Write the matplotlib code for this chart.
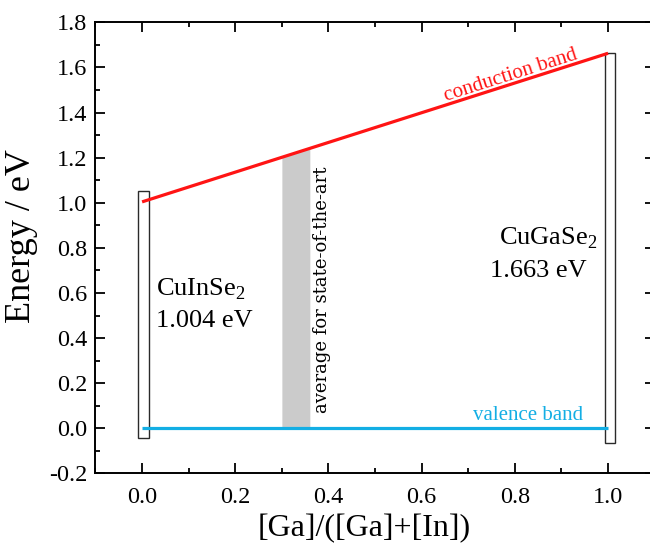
import numpy as np
import matplotlib
matplotlib.use("Agg")
import matplotlib.pyplot as plt
from matplotlib.patches import Rectangle
from matplotlib.ticker import MultipleLocator, FormatStrFormatter

plt.rcParams['font.family'] = ['Liberation Serif', 'DejaVu Serif']
plt.rcParams['mathtext.fontset'] = 'custom'
plt.rcParams['mathtext.rm'] = 'Liberation Serif'
plt.rcParams['axes.unicode_minus'] = False

# band edges vs Ga content
ga_fraction = [0.0, 1.0]
conduction = [1.004, 1.663]
valence = [0.0, 0.0]

# end member boxes (CuInSe2, CuGaSe2)
box_left = [-0.008, 0.993]
box_width = 0.022
box_top = [1.05, 1.663]
box_bottom = [-0.044, -0.064]

# composition range of state-of-the-art cells
soa_range = [0.30, 0.36]

red = '#ff1414'
cyan = '#13aee4'

fig = plt.figure(figsize=(6.5, 5.47), dpi=100)
ax = fig.add_axes([0.1469, 0.1346, 0.8603, 0.8245])

# grey band under the conduction band line
xs = np.linspace(soa_range[0], soa_range[1], 20)
ax.fill_between(xs, 0, np.interp(xs, ga_fraction, conduction),
                color='#cbcbcb', lw=0, zorder=1)

for x0, top, bot in zip(box_left, box_top, box_bottom):
    ax.add_patch(Rectangle((x0, bot), box_width, top - bot, fill=False,
                           edgecolor='#2a2a2a', lw=1.0, zorder=2))

ax.plot(ga_fraction, conduction, color=red, lw=2.3, zorder=3, solid_capstyle='butt')
ax.plot(ga_fraction, valence, color=cyan, lw=2.3, zorder=3, solid_capstyle='butt')

ax.set_xlim(-0.1, 1.1)
ax.set_ylim(-0.2, 1.8)

# text labels
ax.text(0.03, 0.588, r'CuInSe$_\mathregular{2}$', fontsize=19, va='baseline', ha='left')
ax.text(0.03, 0.45, '1.004 eV', fontsize=19, va='baseline', ha='left')
ax.text(0.977, 0.813, r'CuGaSe$_\mathregular{2}$', fontsize=19, va='baseline', ha='right')
ax.text(0.955, 0.672, '1.663 eV', fontsize=19, va='baseline', ha='right')

ax.text(0.387, 0.068, 'average for state-of-the-art', rotation=90, fontsize=13,
        family='DejaVu Serif', ha='center', va='bottom')

# rotate label along the conduction band line
p0 = ax.transData.transform((ga_fraction[0], conduction[0]))
p1 = ax.transData.transform((ga_fraction[1], conduction[1]))
angle = np.degrees(np.arctan2(p1[1] - p0[1], p1[0] - p0[0]))
xc = 0.936
ax.text(xc, np.interp(xc, ga_fraction, conduction) + 0.018, 'conduction band',
        color=red, fontsize=15, rotation=angle, rotation_mode='anchor',
        ha='right', va='baseline')
ax.text(0.947, 0.035, 'valence band', color=cyan, fontsize=15,
        ha='right', va='baseline')

ax.xaxis.set_major_locator(MultipleLocator(0.2))
ax.xaxis.set_minor_locator(MultipleLocator(0.1))
ax.yaxis.set_major_locator(MultipleLocator(0.2))
ax.yaxis.set_minor_locator(MultipleLocator(0.1))
ax.xaxis.set_major_formatter(FormatStrFormatter('%.1f'))
ax.yaxis.set_major_formatter(FormatStrFormatter('%.1f'))

ax.tick_params(which='both', direction='in', top=True, right=True, width=1.3)
ax.tick_params(which='major', length=7)
ax.tick_params(which='minor', length=3.5)
ax.tick_params(axis='x', labelsize=17.5, pad=10)
ax.tick_params(axis='y', labelsize=17.5, pad=6)
for s in ax.spines.values():
    s.set_linewidth(1.4)

ax.set_xlabel('[Ga]/([Ga]+[In])', fontsize=23)
ax.set_ylabel('Energy / eV', fontsize=26)
ax.xaxis.set_label_coords(0.48, -0.09)
ax.yaxis.set_label_coords(-0.103, 0.527)

plt.savefig('out.png', dpi=100)
